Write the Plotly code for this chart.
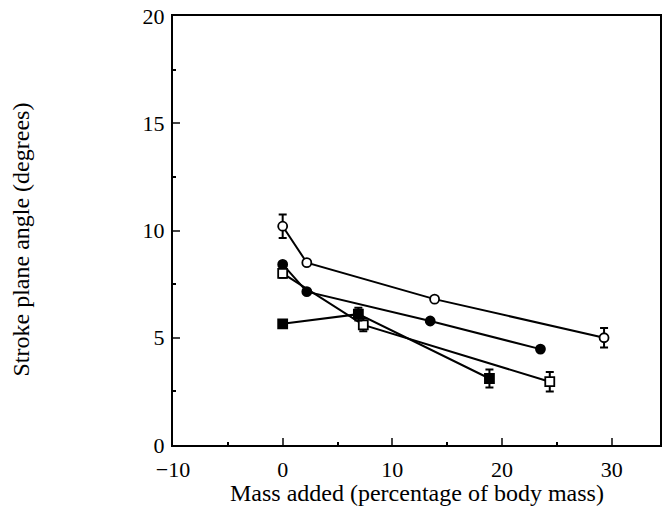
import plotly.graph_objects as go

# Series data (mass added %, stroke plane angle deg, error)
open_circle_x = [0, 2.2, 13.85, 29.3]
open_circle_y = [10.2, 8.5, 6.8, 5.0]
open_circle_err = [0.55, 0, 0, 0.45]

filled_circle_x = [0, 2.2, 13.45, 23.5]
filled_circle_y = [8.42, 7.15, 5.78, 4.47]
filled_circle_err = [0, 0, 0, 0]

open_square_x = [0, 7.35, 24.35]
open_square_y = [8.0, 5.6, 2.95]
open_square_err = [0.2, 0.3, 0.45]

filled_square_x = [0, 6.9, 18.85]
filled_square_y = [5.65, 6.1, 3.1]
filled_square_err = [0.15, 0.3, 0.42]

x_ticks = [-10, 0, 10, 20, 30]
y_ticks = [0, 5, 10, 15, 20]

FONT = "Liberation Serif"
TICK_SIZE = 22
TITLE_SIZE = 24

fig = go.Figure()

def add_series(x, y, err, symbol, fill):
    fig.add_trace(go.Scatter(
        x=x, y=y, mode="lines+markers",
        line=dict(color="black", width=2),
        marker=dict(symbol=symbol, size=9, color=fill,
                    line=dict(color="black", width=1.8)),
        error_y=dict(type="data", array=err, visible=True, color="black",
                     thickness=2, width=4),
        showlegend=False,
    ))

add_series(open_circle_x, open_circle_y, open_circle_err, "circle", "white")
add_series(filled_circle_x, filled_circle_y, filled_circle_err, "circle", "black")
add_series(open_square_x, open_square_y, open_square_err, "square", "white")
add_series(filled_square_x, filled_square_y, filled_square_err, "square", "black")

fig.update_layout(
    width=662, height=519,
    margin=dict(l=173, r=0, t=16, b=74),
    plot_bgcolor="white", paper_bgcolor="white",
    font=dict(family=FONT, size=TICK_SIZE, color="black"),
    xaxis=dict(
        range=[-10, 34.4], tickvals=x_ticks, ticks="inside", ticklen=7, tickwidth=2,
        showline=True, linecolor="black", linewidth=2, mirror=True,
        showgrid=False, zeroline=False, ticklabelstandoff=4,
        minor=dict(dtick=5, ticks="inside", ticklen=3, tickwidth=2, tickcolor="black"),
        tickfont=dict(family=FONT, size=TICK_SIZE),
    ),
    yaxis=dict(
        range=[0, 20], tickvals=y_ticks, ticks="inside", ticklen=7, tickwidth=2,
        showline=True, linecolor="black", linewidth=2, mirror=True,
        showgrid=False, zeroline=False, ticklabelstandoff=2,
        minor=dict(dtick=2.5, ticks="inside", ticklen=3, tickwidth=2, tickcolor="black"),
        tickfont=dict(family=FONT, size=TICK_SIZE),
    ),
    annotations=[
        dict(text="Mass added (percentage of body mass)", xref="paper", yref="paper",
             x=0.5, y=0, yshift=-48, showarrow=False, xanchor="center", yanchor="middle",
             font=dict(family=FONT, size=TITLE_SIZE)),
        dict(text="Stroke plane angle (degrees)", xref="paper", yref="paper",
             x=0, xshift=-153, y=0.5, yshift=-9, showarrow=False, textangle=-90,
             xanchor="center", yanchor="middle", font=dict(family=FONT, size=TITLE_SIZE)),
    ],
)

fig.write_html("out.html")
